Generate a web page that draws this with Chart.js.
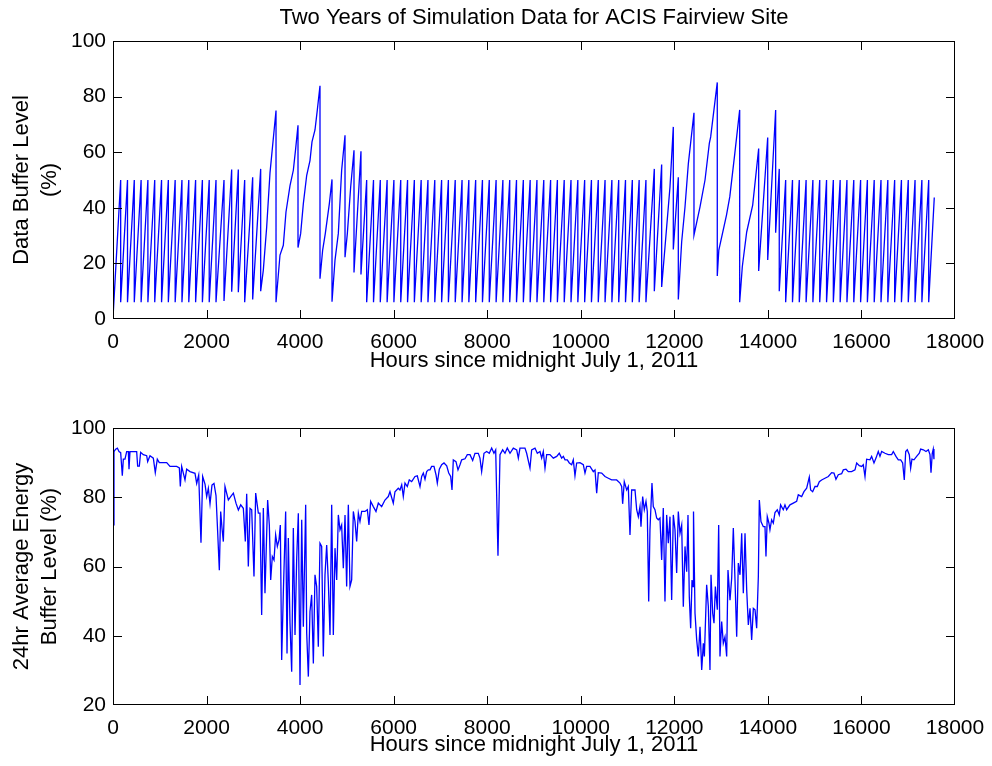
<!DOCTYPE html>
<html><head><meta charset="utf-8">
<script src="https://cdn.jsdelivr.net/npm/chart.js@4.4.0/dist/chart.umd.min.js"></script>
<style>
html,body{margin:0;padding:0;background:#fff;width:992px;height:766px;overflow:hidden}
.wrap{position:absolute;left:0;width:992px;height:383px}
#w1{top:0}#w2{top:383px}
canvas{display:block}
</style></head><body>
<div class="wrap" id="w1"><canvas id="c1" width="992" height="383"></canvas></div>
<div class="wrap" id="w2"><canvas id="c2" width="992" height="383"></canvas></div>
<script>
// ---------- DATA ----------
const chartTitle = "Two Years of Simulation Data for ACIS Fairview Site";
const xAxisTitle = "Hours since midnight July 1, 2011";
const topYTitle = ["Data Buffer Level", "(%)"];
const bottomYTitle = ["24hr Average Energy", "Buffer Level (%)"];
const xTicks = [0, 2000, 4000, 6000, 8000, 10000, 12000, 14000, 16000, 18000];
const topYTicks = [0, 20, 40, 60, 80, 100];
const bottomYTicks = [20, 40, 60, 80, 100];

// Data buffer dumps: [hour, level just before dump (%), level just after dump (%)]
const bufferDumps = [
 [164,50,6],[310,50,6],[455,50,6],[601,50,6],[746,50,6],[892,50,6],[1038,50,6],[1183,50,6],
 [1329,50,6],[1474,50,6],[1620,50,6],[1766,50,6],[1911,50,6],[2057,50,6],[2202,50,6],[2373,50,6.5],
 [2537,53.8,9.8],[2679,53.8,9.6],[2815,50,6],[2986,51,7],[3157,54,10],[3485,75,6],[3955,69.7,25.7],
 [4425,83.9,14.5],[4682,50.2,6.2],[4960,66.1,22.2],[5152,60.7,16.7],[5301,60.3,16],
 [5423,50,6],[5569,50,6],[5714,50,6],[5860,50,6],[6005,50,6],[6151,50,6],[6297,50,6],[6442,50,6],
 [6588,50,6],[6733,50,6],[6879,50,6],[7025,50,6],[7170,50,6],[7316,50,6],[7462,50,6],[7607,50,6],
 [7753,50,6],[7898,50,6],[8044,50,6],[8190,50,6],[8335,50,6],[8481,50,6],[8626,50,6],[8772,50,6],
 [8918,50,6],[9063,50,6],[9209,50,6],[9355,50,6],[9500,50,6],[9646,50,6],[9791,50,6],[9937,50,6],
 [10083,50,6],[10228,50,6],[10374,50,6],[10519,50,6],[10665,50,6],[10811,50,6],[10956,50,6],[11102,50,6],
 [11248,50,6],[11393,50,6],
 [11572,54,10],[11729,55.6,11.5],[11978,69.1,25],[12085,51,7],[12420,74.2,30.2],[12918,85.1,15.5],
 [13397,75.2,6],[13803,61.3,17.3],[13996,65.3,21.2],[14166,75.2,31],[14243,54,10],
 [14380,50,6],[14526,50,6],[14671,50,6],[14817,50,6],[14962,50,6],[15108,50,6],[15254,50,6],[15399,50,6],
 [15545,50,6],[15690,50,6],[15836,50,6],[15982,50,6],[16127,50,6],[16273,50,6],[16418,50,6],[16564,50,6],
 [16710,50,6],[16855,50,6],[17001,50,6],[17146,50,6],[17292,50,6],[17438,50,6]
];
// Intermediate points on the filling slopes: [hour, level (%)]
const bufferFillPoints = [
 [0,0.5],
 [3213,17.5],[3285,33],[3356,52.5],
 [3570,23],[3641,26.5],[3698,38.5],[3784,48],[3855,53.5],[3905,61.3],
 [4012,30.8],[4069,41.5],[4141,51.7],[4211,57],[4254,63.7],[4318,68],[4368,75.2],
 [4482,24.8],[4539,30.8],[4625,41.5],
 [4746,21.2],[4817,30.8],[4888,53.5],
 [5010,30.8],[5081,47.5],
 [11801,26],[11907,47.5],
 [12157,27.8],[12228,40.3],[12299,55.8],
 [12549,40.3],[12656,50],[12748,63.2],[12777,65.5],
 [12951,24.8],[13115,37.4],[13186,44],[13293,59.6],
 [13453,18.8],[13547,31.3],[13675,41],
 [17557,43.7]
];

// 24 hr average energy buffer level: [hour, level (%)]
const energyLevels = [
 [0,72],[21,93.2],[57,93.9],[93,94.2],[128,93.2],[164,92.9],[199,86.2],[221,91],[256,91],[292,93.2],
 [328,93.2],[342,88.1],[363,93.2],[399,93.2],[470,93.2],[506,93.2],[527,89],[563,89],[591,93],[648,92.3],
 [720,92],[741,90.3],[791,92],[862,91.3],[904,87.1],[947,91],[990,90],[1148,90],[1218,88.9],[1361,88.9],
 [1418,88.5],[1439,83.1],[1468,88.9],[1539,85],[1575,88.1],[1646,87.4],[1753,86.9],[1789,84],[1832,86.4],
 [1881,66.9],[1917,86],[1967,83.8],[2003,80.2],[2038,82.6],[2074,78.1],[2116,83.5],[2159,84],[2202,80.5],
 [2238,69.8],[2273,58.9],[2302,75.9],[2330,71.1],[2359,67.2],[2394,83.1],[2466,79.2],[2516,80.2],[2573,81.2],
 [2629,78.3],[2680,76.3],[2730,77.8],[2786,76.8],[2829,67.2],[2858,81],[2893,60],[2929,76.8],
 [2965,76.4],[3014,57.1],[3050,81.2],[3107,75.4],[3142,75.4],[3178,46],[3214,76.9],[3249,52.3],[3306,79.2],
 [3342,72],[3371,56.1],[3406,62.9],[3442,61.9],[3477,69.1],[3513,65.8],[3549,67.7],[3577,72],[3606,33],
 [3641,52.3],[3691,75.9],[3720,34.9],[3748,68.2],[3784,43.6],[3820,29.6],[3855,71.1],[3891,40.2],[3927,62.4],
 [3962,75.4],[3998,25.8],[4034,73.5],[4069,42.6],[4119,77.8],[4141,40.7],[4176,28.2],[4211,47],[4247,51.8],
 [4283,32],[4318,57.6],[4354,54.2],[4389,36.8],[4425,66.7],[4461,65.8],[4496,34],[4532,57.6],[4568,66.2],
 [4603,55.6],[4639,40.2],[4675,77.8],[4710,40.2],[4746,65.3],[4782,56.1],[4817,74.9],[4853,70.6],[4888,72],
 [4924,59.5],[4960,74.9],[4995,54.2],[5031,77.8],[5066,54.2],[5102,56.1],[5138,75.9],[5173,73],[5209,67.2],
 [5245,75.4],[5280,73],[5316,75.9],[5387,75.9],[5437,76.4],[5472,72],[5508,78.8],[5565,77.3],[5622,75.9],
 [5672,78.3],[5743,77.3],[5814,79.2],[5885,80.2],[5921,81.6],[5992,78.3],[6028,81.6],[6099,82.6],
 [6135,82.1],[6172,83.6],[6206,80.2],[6242,84.1],[6292,83.1],[6334,85],[6385,84.5],[6456,86],[6505,86.2],
 [6563,83.1],[6599,86],[6634,87],[6670,85.2],[6706,87.4],[6741,87.9],[6777,87.9],[6812,88.9],[6862,88.9],
 [6905,86.5],[6933,84.1],[6976,88.1],[7026,89.4],[7076,89.9],[7134,89.1],[7177,87],[7219,86],[7247,82.1],
 [7275,90.8],[7332,90.3],[7375,87.9],[7418,89.4],[7454,90.8],[7525,91.1],[7574,92.3],[7632,92.3],[7689,90.6],
 [7738,92.7],[7809,92.7],[7845,91.3],[7881,87.4],[7931,92.7],[7988,93.2],[8044,92.7],[8095,94.2],[8144,92.7],
 [8181,93.7],[8230,63.1],[8273,92.3],[8330,93.7],[8380,92.7],[8429,94.2],[8487,92.7],[8558,94.2],[8630,93.7],
 [8665,91.3],[8700,94.2],[8807,94.2],[8843,92.7],[8914,88.4],[8950,93.7],[9021,94.2],[9071,92.7],[9128,93.2],
 [9164,91.3],[9199,93.2],[9235,88.4],[9271,92.3],[9342,92.3],[9413,91.3],[9485,91.8],[9540,92.7],[9591,91.3],
 [9627,91.8],[9663,90.8],[9712,90.8],[9755,89.9],[9805,89.4],[9840,90.8],[9876,86.2],[9912,89.9],[9983,90],
 [10054,89.4],[10090,87],[10126,88.9],[10197,88.9],[10268,87.4],[10304,87.9],[10340,81.2],[10375,87.1],
 [10447,87],[10518,86],[10589,85.5],[10660,85],[10767,85],[10838,84.1],[10874,83.1],[10895,78.1],[10930,84.5],
 [10981,82.1],[11016,83.1],[11052,69.1],[11088,82.1],[11159,82.1],[11195,76.4],[11230,74.4],[11266,77.3],
 [11287,71.5],[11323,80.2],[11358,76.4],[11394,78.8],[11422,75.9],[11452,49.9],[11479,70.6],[11522,84.1],
 [11550,77.3],[11586,76.4],[11622,74],[11657,73.5],
 [11693,74],[11729,61.9],[11764,76.9],[11800,49.9],[11836,74.9],[11871,66.7],[11907,74.4],[11943,50.3],
 [11978,74.9],[12014,70.6],[12050,58.1],[12085,75.9],[12121,69.6],[12157,72],[12192,48.4],[12228,65.8],
 [12264,58.5],[12292,74.9],[12320,51.3],[12349,42.2],[12378,56.1],[12400,54.2],[12410,75.9],[12442,46.5],
 [12478,38.8],[12513,34],[12549,42.6],[12585,30.1],[12620,37.8],[12642,34],[12691,54.7],[12727,48.4],
 [12762,30.1],[12784,57.6],[12820,46.5],[12848,43.6],[12877,54.2],[12919,47.5],[12948,72],[12976,34],
 [13012,44.1],[13047,37.8],[13083,39.7],[13119,34],[13147,59],[13190,50.3],[13226,56.6],[13261,71.1],
 [13297,56.1],[13333,39.7],[13368,61],[13404,57.6],[13440,69.6],[13475,52.3],[13511,69.6],[13547,53.2],
 [13582,43.1],[13618,47.9],[13653,38.8],[13689,47.9],[13725,47.5],[13760,42.2],[13796,57.1],[13817,79.2],
 [13852,73],[13902,71.5],[13938,71.5],[13959,62.9],[13987,74.4],[14023,72.5],[14044,70.6],[14080,73.5],
 [14116,72.5],
 [14152,75.6],[14201,76.4],[14243,74.9],[14272,77.8],[14329,76.4],[14365,77.8],[14401,76.4],[14472,77.8],
 [14543,78.3],[14615,78.8],[14650,80.7],[14722,80.2],[14771,81.6],[14829,82.6],[14885,85.8],[14914,82.1],
 [14957,81.6],[15007,83.1],[15056,83.1],[15099,84.5],[15149,85],[15220,85.5],[15292,86],[15363,87.1],
 [15413,87],[15455,85.2],[15505,86.5],[15577,86.8],[15612,87.9],[15670,88.1],[15719,87.4],[15790,87.4],
 [15862,87.9],[15898,89.9],[15954,89.1],[16005,88.9],[16039,89.4],[16076,86],[16111,91],[16182,90.8],
 [16218,91.8],[16268,89.9],[16311,91.3],[16360,93.2],[16396,91.8],[16432,93.2],[16503,92.7],[16574,92.3],
 [16646,92.3],[16681,93.2],[16738,91.8],[16788,90.8],[16839,90.8],[16881,89.9],[16916,85],[16946,93.2],
 [16980,93.7],[17023,92.3],[17052,88.4],[17080,91],[17123,90.8],[17180,91.8],[17237,92.7],[17266,93.9],
 [17323,93.7],[17380,93.2],[17430,93.7],[17465,92.3],[17487,87.1],[17514,92.7],[17535,93.9],[17550,91]
];

// ---------- BUILD SERIES ----------
function buildBufferSeries() {
  const ev = [];
  bufferDumps.forEach(d => { ev.push({x: d[0], y: d[1], o: 0}); ev.push({x: d[0], y: d[2], o: 1}); });
  bufferFillPoints.forEach(p => ev.push({x: p[0], y: p[1], o: 0}));
  ev.sort((a, b) => a.x - b.x || a.o - b.o);
  return ev.map(e => ({x: e.x, y: e.y}));
}
const bufferSeries = buildBufferSeries();
const energySeries = energyLevels.map(p => ({x: p[0], y: p[1]}));

// ---------- DRAWING ----------
const FONT = '"Liberation Sans", Arial, Helvetica, sans-serif';
const H = 383, LEFT = 113, RIGHT_PAD = 37;

function makeAxesPlugin(texts, yTicks) {
  return {
    id: 'matlabAxes',
    afterDraw(chart) {
      const ctx = chart.ctx, a = chart.chartArea;
      const xs = chart.scales.x, ys = chart.scales.y;
      ctx.save();
      ctx.setLineDash([]);
      ctx.globalAlpha = 1;
      ctx.fillStyle = '#000';
      const L = 8;
      const l = Math.round(a.left), r = Math.round(a.right) - 1;
      const tp = Math.round(a.top), bt = Math.round(a.bottom) - 1;
      ctx.fillRect(l, tp, r - l + 1, 1);
      ctx.fillRect(l, bt, r - l + 1, 1);
      ctx.fillRect(l, tp, 1, bt - tp + 1);
      ctx.fillRect(r, tp, 1, bt - tp + 1);
      xTicks.forEach(v => {
        const p = Math.min(Math.round(xs.getPixelForValue(v)), r);
        ctx.fillRect(p, bt - L, 1, L);
        ctx.fillRect(p, tp + 1, 1, L);
      });
      yTicks.forEach(v => {
        const p = Math.min(Math.round(ys.getPixelForValue(v)), bt);
        ctx.fillRect(l + 1, p, L, 1);
        ctx.fillRect(r - L, p, L, 1);
      });
      ctx.font = '22px ' + FONT;
      ctx.textAlign = 'center';
      ctx.textBaseline = 'middle';
      const cx = (a.left + a.right) / 2;
      if (texts.title) ctx.fillText(texts.title, cx, texts.titleY);
      ctx.fillText(texts.xTitle, cx, texts.xTitleY);
      const cy = (a.top + a.bottom) / 2;
      texts.yTitle.forEach((line, i) => {
        ctx.save();
        ctx.translate(texts.yTitleX[i], cy);
        ctx.rotate(-Math.PI / 2);
        ctx.fillText(line, 0, 0);
        ctx.restore();
      });
      ctx.restore();
    }
  };
}

function makeChart(id, series, yTicks, top, bottom, texts) {
  const yMin = yTicks[0], yMax = yTicks[yTicks.length - 1];
  return new Chart(document.getElementById(id), {
    type: 'line',
    data: { datasets: [{
      data: series,
      borderColor: '#0000ff',
      borderWidth: 1.3,
      pointRadius: 0,
      fill: false,
      tension: 0
    }]},
    options: {
      responsive: false,
      animation: false,
      devicePixelRatio: 1,
      layout: { padding: { top: top, right: RIGHT_PAD, left: 0, bottom: 0 } },
      plugins: { legend: { display: false }, tooltip: { enabled: false } },
      scales: {
        x: {
          type: 'linear',
          min: xTicks[0], max: xTicks[xTicks.length - 1],
          afterBuildTicks: s => { s.ticks = xTicks.map(v => ({value: v})); },
          grid: { display: false, drawTicks: true, tickLength: 9 },
          border: { display: false },
          ticks: { color: '#000', font: { family: FONT, size: 21 }, padding: 2, maxRotation: 0, autoSkip: false,
                   callback: v => String(v) },
          afterFit: s => { s.height = H - bottom; }
        },
        y: {
          type: 'linear',
          min: yMin, max: yMax,
          afterBuildTicks: s => { s.ticks = yTicks.map(v => ({value: v})); },
          grid: { display: false, drawTicks: false },
          border: { display: false },
          ticks: { color: '#000', font: { family: FONT, size: 21 }, padding: 7, callback: v => String(v) },
          afterFit: s => { s.width = LEFT; }
        }
      }
    },
    plugins: [makeAxesPlugin(texts, yTicks)]
  });
}

makeChart('c1', bufferSeries, topYTicks, 41, 319, {
  title: chartTitle, titleY: 18,
  xTitle: xAxisTitle, xTitleY: 361,
  yTitle: topYTitle, yTitleX: [22, 50]
});
makeChart('c2', energySeries, bottomYTicks, 45, 322, {
  title: null, titleY: 0,
  xTitle: xAxisTitle, xTitleY: 745 - 383,
  yTitle: bottomYTitle, yTitleX: [22, 50]
});
</script>
</body></html>
